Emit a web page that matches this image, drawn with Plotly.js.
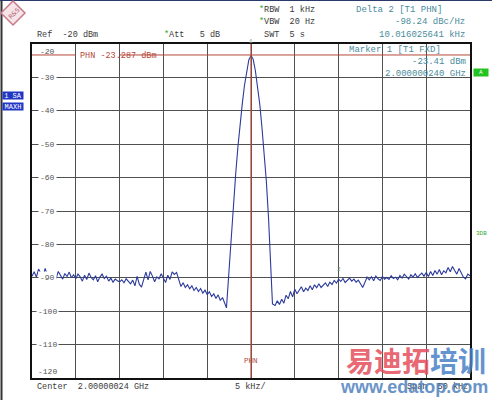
<!DOCTYPE html>
<html>
<head>
<meta charset="utf-8">
<script src="https://cdn.plot.ly/plotly-3.0.1.min.js"></script>
<style>html,body{margin:0;padding:0;background:#fff;}#chart{width:492px;height:400px;}</style>
</head>
<body>
<div id="chart"></div>
<script>
// ---- Data (frequency offset from center in kHz, level in dBm) ----
const centerLabel = "Center  2.00000024 GHz";
const spanLabel = "Span  50 kHz";
const divLabel = "5 kHz/";
const yTickValues = [-20, -30, -40, -50, -60, -70, -80, -90, -100, -110, -120];
const yTickLabels = ["-20", "-30", "-40", "-50", "-60", "-70", "-80", "-90", "-100", "-110", "-120"];

// left noise floor, sweep points from -25 kHz every 0.25 kHz
const leftNoiseStart = -25, noiseStep = 0.25;
const leftNoise = [
  -89.5, -88.2, -89.8, -87.4,  -88.6, -90.1, -87.2, -89.3,
  -88.4, -89.9, -88.8, -90.2,  -88.1, -89.5, -90.4, -88.7,
  -89.6, -88.3, -90.0, -89.1,  -90.3, -88.9, -89.7, -91.0,
  -89.2, -90.5, -88.6, -89.9,  -90.6, -89.4, -91.2, -89.8,
  -88.9, -90.2, -89.5, -91.0,  -90.1, -91.3, -90.4, -90.9,
  -91.2, -90.6, -91.5, -90.3,  -91.0, -91.8, -90.7, -92.4,
  -89.6, -91.9, -92.8, -90.1,  -88.3, -90.6, -88.1, -89.5,
  -91.2, -89.7, -90.3, -88.8,  -89.9, -91.4, -89.2, -90.5,
  -88.2, -89.0, -88.4, -90.6,  -92.6, -91.5, -92.9, -92.1,
  -93.3, -92.4, -93.8, -92.9,  -94.1, -93.2, -94.6, -93.7,
  -95.0, -94.2, -95.6, -94.8,  -96.2, -95.1, -96.8, -95.9,
  -97.4
];
// carrier peak
const peakFreq = [-2.8, -2.5, -2.25, -2.0, -1.75, -1.5, -1.25, -1.0, -0.75, -0.5, -0.25, 0,
                  0.25, 0.5, 0.75, 1.0, 1.25, 1.5, 1.75, 2.0, 2.25, 2.45];
const peakLevel = [-99.0, -87.5, -77.5, -67.5, -59.0, -51.0, -44.0, -38.0, -32.5, -28.0, -24.8, -23.4,
                   -24.6, -28.0, -32.5, -38.0, -45.0, -52.0, -61.0, -72.0, -85.0, -97.8];
// right noise floor, sweep points from 2.75 kHz every 0.25 kHz
const rightNoiseStart = 2.75;
const rightNoise = [
  -98.3, -96.9, -98.0, -96.4,  -97.6, -95.2, -96.3, -94.1,
  -95.7, -93.4, -94.8, -93.9,  -92.7, -94.2, -93.1, -93.8,
  -92.4, -93.6, -92.1, -93.0,  -91.8, -92.9, -92.2, -91.5,
  -92.6, -91.3, -92.0, -90.8,  -91.6, -90.4, -91.1, -90.2,
  -91.4, -90.6, -90.1, -91.0,  -90.4, -91.3, -90.7, -91.8,
  -92.9, -91.4, -89.8, -90.6,  -89.7, -90.9, -89.5, -90.3,
  -90.8, -89.6, -90.4, -89.9,  -90.5, -89.4, -90.2, -89.8,
  -90.6, -89.3, -90.1, -88.9,  -89.7, -90.4, -89.1, -89.8,
  -88.8, -89.9, -89.2, -88.6,  -89.5, -88.4, -89.6, -88.1,
  -89.3, -87.8, -88.9, -87.5,  -89.1, -87.9, -88.5, -86.9,
  -88.2, -86.6, -87.8, -88.9,  -87.2, -88.6, -89.8, -90.3,
  -88.9, -89.4
];
const phnLevel = -23.287;
const marker1 = {f: 0, level: -23.41};
const marker2 = {f: 10.016, level: -91.1};

// ---- Build trace ----
const xs = [], ys = [];
leftNoise.forEach((v, i) => { xs.push(leftNoiseStart + i * noiseStep); ys.push(v); });
peakFreq.forEach((f, i) => { xs.push(f); ys.push(peakLevel[i]); });
rightNoise.forEach((v, i) => { xs.push(rightNoiseStart + i * noiseStep); ys.push(v); });

// ---- Pixel helpers (plot area 32..470 x 44..378) ----
const L = 32, R = 470, T = 44, B = 378;
const px = x => (x - L) / (R - L);
const py = y => (B - y) / (B - T);

const MONO = "Liberation Mono, DejaVu Sans Mono, monospace";
const DARK = "#3a3a3a";
const TEAL = "#4a8c9c";
const RED = "#b5493a";

function txt(text, x, y, anchor, opts) {
  opts = opts || {};
  return Object.assign({
    text: text, xref: "paper", yref: "paper", x: px(x), y: py(y),
    xanchor: anchor, yanchor: "middle", showarrow: false,
    font: {family: MONO, size: opts.size || 8.5, color: opts.color || DARK}
  }, opts.extra || {});
}

const annotations = [
  txt("Ref  -20 dBm", 35, 35, "left"),
  txt('<span style="color:#2aa82a">*</span>Att   5 dB', 162, 35, "left"),
  txt('<span style="color:#2aa82a">*</span>RBW  1 kHz', 257, 10, "left"),
  txt('<span style="color:#2aa82a">*</span>VBW  20 Hz', 257, 22, "left"),
  txt(' SWT  5 s', 257, 35, "left"),
  txt("Delta 2 [T1 PHN]", 354, 10, "left", {color: TEAL, size: 9}),
  txt("-98.24 dBc/Hz", 467, 22, "right", {color: TEAL, size: 9}),
  txt("10.016025641 kHz", 467, 35, "right", {color: TEAL, size: 9}),
  txt("Marker 1 [T1 FXD]", 347, 50, "left", {color: TEAL, size: 9}),
  txt("-23.41 dBm", 468, 62, "right", {color: TEAL, size: 9}),
  txt("2.000000240 GHz", 468, 74, "right", {color: TEAL, size: 9}),
  txt("PHN -23.287 dBm", 78, 56, "left", {color: RED, size: 8.5}),
  txt("PHN", 251, 361, "center", {color: RED, size: 7.5}),
  txt("1 SA", 12.5, 95, "center", {color: "#ffffff", size: 7, extra: {bgcolor: "#2236c4", width: 20, height: 7, borderpad: 0}}),
  txt("MAXH", 12.5, 106, "center", {color: "#ffffff", size: 7, extra: {bgcolor: "#2236c4", width: 20, height: 7, borderpad: 0}}),
  txt("A", 480.5, 72, "center", {color: "#ffffff", size: 6, extra: {bgcolor: "#22c422", width: 14, height: 7, borderpad: 0}}),
  txt("3DB", 481, 233, "center", {color: "#33aa33", size: 6}),
  txt(centerLabel, 35, 387, "left"),
  txt(divLabel, 250, 387, "center"),
  txt(spanLabel, 470, 387, "right"),
  txt("1", 251, 41, "center", {color: "#8a8a8a", size: 6}),
  txt("2", 339, 269, "center", {color: "#6a9a7a", size: 6}),
  // watermark
  {text: '<span style="color:#e4505c">易迪拓</span><span style="color:#4a82c8">培训</span>',
   xref: "paper", yref: "paper", x: px(416), y: py(360), xanchor: "center", yanchor: "middle",
   showarrow: false, opacity: 0.85,
   font: {family: "Noto Sans CJK SC", size: 28, color: "#e4505c", weight: 700}},
  {text: "www.edatop.com", xref: "paper", yref: "paper", x: px(414), y: py(387),
   xanchor: "center", yanchor: "middle", showarrow: false, opacity: 0.85,
   font: {family: "Liberation Sans, Arial", size: 18, color: "#4f82bf", weight: 700}}
];

// y tick labels inside the plot, breaking the grid lines
yTickValues.forEach((v, i) => {
  let shift = 0;
  if (i === 0) shift = -7;
  if (i === yTickValues.length - 1) shift = 7;
  annotations.push({
    text: yTickLabels[i], xref: "paper", yref: "y", x: px(47), y: v, yshift: shift,
    xanchor: "center", yanchor: "middle", showarrow: false,
    bgcolor: (i === 0 || i === yTickValues.length - 1) ? "rgba(0,0,0,0)" : "#ffffff",
    borderpad: 1,
    font: {family: MONO, size: 8, color: "#555"}
  });
});

const shapes = [
  // PHN reference line (interrupted by its label)
  {type: "line", xref: "x", yref: "y", x0: -25, x1: -20, y0: phnLevel, y1: phnLevel, line: {color: RED, width: 1}},
  {type: "line", xref: "x", yref: "y", x0: -15, x1: 25, y0: phnLevel, y1: phnLevel, line: {color: RED, width: 1}},
  // vertical marker line at center
  {type: "line", xref: "x", yref: "paper", x0: marker1.f, x1: marker1.f, y0: 0, y1: 1, line: {color: RED, width: 1.2}},
  // outer frame lines of the screenshot
  {type: "line", xref: "paper", yref: "paper", x0: px(1.5), x1: px(1.5), y0: py(0), y1: py(400), line: {color: "#333", width: 2}},
  {type: "line", xref: "paper", yref: "paper", x0: px(0), x1: px(492), y0: py(0.5), y1: py(0.5), line: {color: "#2a3a6a", width: 1}},
  // R&S logo diamond
  {type: "path", xref: "paper", yref: "paper",
   path: "M " + px(13) + " " + py(1) + " L " + px(25) + " " + py(13) + " L " + px(13) + " " + py(25) + " L " + px(1) + " " + py(13) + " Z",
   fillcolor: "#f6e4e8", line: {color: "#c97a8a", width: 1.5}}
];
annotations.push({text: "R&S", xref: "paper", yref: "paper", x: px(13), y: py(13), xanchor: "center", yanchor: "middle",
  showarrow: false, textangle: -45, font: {family: "DejaVu Sans", size: 6, color: "#b05a6a"}});

const trace = {
  x: xs, y: ys, type: "scatter", mode: "lines",
  line: {color: "#2b3a9c", width: 1.1}, hoverinfo: "skip"
};

const axisCommon = {
  showgrid: true, gridcolor: "#505050", gridwidth: 1, zeroline: false,
  showticklabels: false, ticks: "", showline: true, mirror: true,
  linecolor: "#111", linewidth: 2
};

const layout = {
  width: 492, height: 400,
  margin: {l: 32, r: 22, t: 44, b: 22, pad: 0},
  paper_bgcolor: "#ffffff", plot_bgcolor: "#ffffff",
  showlegend: false,
  xaxis: Object.assign({range: [-25, 25], dtick: 5, tick0: 0}, axisCommon),
  yaxis: Object.assign({range: [-120, -20], dtick: 10, tick0: -20}, axisCommon),
  annotations: annotations,
  shapes: shapes
};

Plotly.newPlot("chart", [trace], layout, {displayModeBar: false, staticPlot: true});
</script>
</body>
</html>
